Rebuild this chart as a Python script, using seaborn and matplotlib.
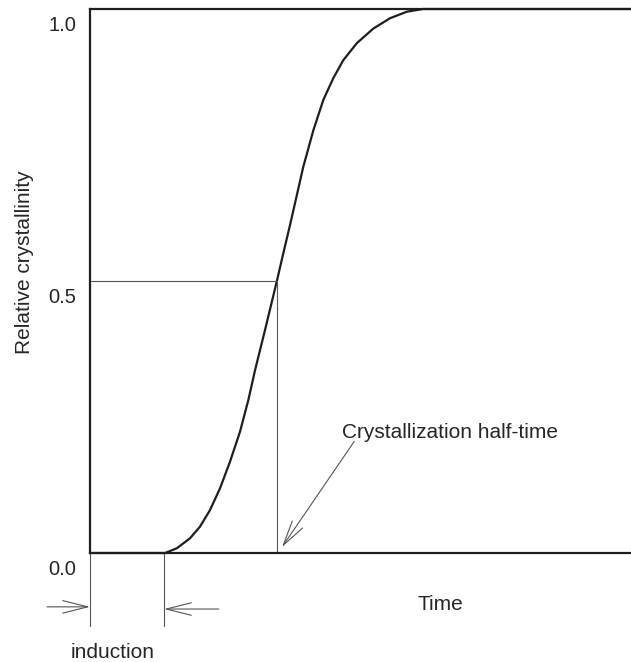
import numpy as np
import pandas as pd
import seaborn as sns
import matplotlib
matplotlib.use("Agg")
import matplotlib.pyplot as plt
from matplotlib.transforms import ScaledTranslation

# Crystallization kinetics curve (arbitrary time units)
time = [0.0, 1.014, 1.172, 1.351, 1.486, 1.622, 1.757, 1.892, 2.027, 2.139,
        2.230, 2.365, 2.525, 2.612, 2.703, 2.780, 2.882, 3.018, 3.153,
        3.288, 3.423, 3.604, 3.828, 4.054, 4.280, 4.500, 7.31]
crystallinity = [0.0, 0.0, 0.0086, 0.027, 0.0484, 0.079, 0.119, 0.168,
                 0.223, 0.281, 0.336, 0.410, 0.5, 0.551, 0.603, 0.649,
                 0.710, 0.777, 0.833, 0.873, 0.906, 0.937, 0.964, 0.983,
                 0.995, 1.0, 1.0]
induction_time = 1.0
half_time = 2.525
half_value = 0.5
ytick_values = [0.0, 0.5, 1.0]
ytick_labels = ["0.0", "0.5", "1.0"]

sns.set_theme(style="white")
plt.rcParams["font.family"] = ["Liberation Sans", "DejaVu Sans"]

ink = "#1e1e1e"
txt = "#262626"
thin = "#555555"

fig = plt.figure(figsize=(6.31, 6.62), dpi=100)
W, H = 631, 662
x0, x1, ybot, ytop = 90, 631, 553, 9
ax = fig.add_axes([x0 / W, 1 - ybot / H, (x1 - x0) / W, (ybot - ytop) / H])

df = pd.DataFrame({"time": time, "crystallinity": crystallinity})
sns.lineplot(data=df, x="time", y="crystallinity", ax=ax, color=ink,
             linewidth=1.6, sort=False, clip_on=False)
ax.lines[-1].set_solid_joinstyle("round")

xmax = time[-1]
ax.set_xlim(0, xmax)
ax.set_ylim(0, 1)
ax.set_xlabel("")
ax.set_ylabel("")
ax.set_xticks([])

for side in ("left", "top", "bottom"):
    ax.spines[side].set_color(ink)
    ax.spines[side].set_linewidth(1.6)
ax.spines["right"].set_visible(False)

ax.set_yticks(ytick_values)
ax.set_yticklabels(ytick_labels, fontsize=14.5, color=txt)
ax.tick_params(axis="y", length=0, pad=10)
for lbl in ax.get_yticklabels():
    lbl.set_transform(lbl.get_transform()
                      + ScaledTranslation(0, -0.145, fig.dpi_scale_trans))

# half-time guide lines
ax.plot([0, half_time], [half_value, half_value], color=thin, lw=0.8)
ax.plot([half_time, half_time], [0, half_value], color=thin, lw=0.8)

# induction period markers below the axis
ax.plot([0, 0], [0, -0.134], color=thin, lw=0.8, clip_on=False)
ax.plot([induction_time, induction_time], [0, -0.134], color=thin, lw=0.8,
        clip_on=False)

arrow_kw = dict(arrowstyle="->,head_length=1.2,head_width=0.3",
                color=thin, lw=0.8, mutation_scale=15, shrinkA=0, shrinkB=0)
ax.annotate("", xy=(0, -0.099), xytext=(-0.58, -0.099),
            arrowprops=arrow_kw, annotation_clip=False)
ax.annotate("", xy=(induction_time, -0.103), xytext=(1.74, -0.103),
            arrowprops=arrow_kw, annotation_clip=False)

ax.annotate("", xy=(half_time + 0.07, 0.011), xytext=(3.57, 0.205),
            arrowprops=arrow_kw, annotation_clip=False)
ax.text(3.41, 0.221, "Crystallization half-time", fontsize=15, color=txt,
        ha="left", va="center")

fig.text(440 / W, 1 - 604 / H, "Time", fontsize=15, color=txt,
         ha="center", va="center")
fig.text(113 / W, 1 - 652 / H, "induction", fontsize=15, color=txt,
         ha="center", va="center")
fig.text(25 / W, 1 - 262 / H, "Relative crystallinity", fontsize=15,
         color=txt, rotation=90, ha="center", va="center")

fig.savefig("out.png", dpi=100, facecolor="white")
